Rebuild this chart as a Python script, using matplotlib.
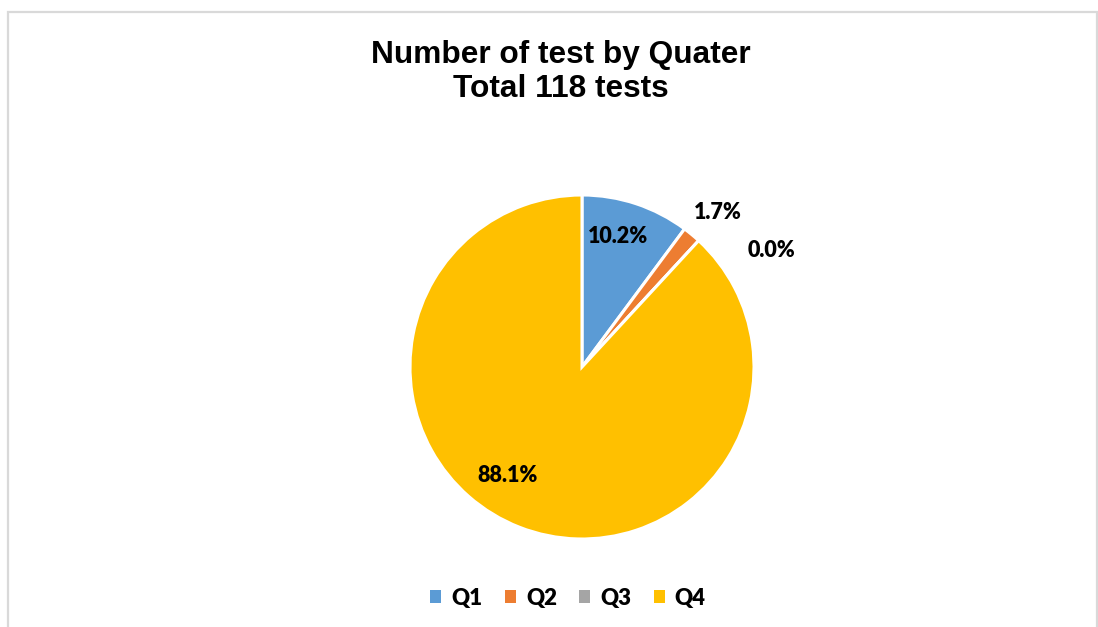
import numpy as np
import matplotlib.pyplot as plt
from matplotlib.patches import Rectangle

# data
quarters = ['Q1', 'Q2', 'Q3', 'Q4']
tests = [12, 2, 0, 104]
colors = ['#5B9BD5', '#ED7D31', '#A5A5A5', '#FFC000']
title = 'Number of test by Quater\nTotal 118 tests'

# label offsets (x, y in pie radius units), moved by hand like in the original
label_pos = [(0.21, 0.76), (0.79, 0.90), (1.10, 0.68), (-0.43, -0.63)]

W, H = 1098, 627
fig = plt.figure(figsize=(W / 100, H / 100), dpi=100)

# light frame round the chart
fig.patches.append(Rectangle((8 / W, -0.1), (1096.5 - 8) / W, 1.1 - 11.5 / H,
                             transform=fig.transFigure, fill=False,
                             edgecolor='#D9D9D9', lw=1.6))

fig.text(561 / W, 1 - 72 / H, title, ha='center', va='center',
         fontsize=22.8, fontweight='bold', family='Liberation Sans',
         linespacing=1.2)

cx, cy, r = 582, 367, 172
ax = fig.add_axes([(cx - r) / W, (H - cy - r) / H, 2 * r / W, 2 * r / H])
wedges, _ = ax.pie(tests, colors=colors, startangle=90, counterclock=False,
                   radius=1, wedgeprops=dict(edgecolor='white', linewidth=2.2))
ax.set_xlim(-1, 1)
ax.set_ylim(-1, 1)
ax.set_aspect('equal')
ax.axis('off')

total = sum(tests)
for v, (x, y) in zip(tests, label_pos):
    ax.text(x, y, f'{100 * v / total:.1f}%', ha='center', va='center',
            fontsize=15.5, fontweight='heavy', family='Lato', color='black')

fig.legend(wedges, quarters, loc='center', bbox_to_anchor=(568 / W, 1 - 598 / H),
           ncol=4, frameon=False, handlelength=0.5, handleheight=0.5,
           handletextpad=0.45, columnspacing=1.0,
           prop=dict(family='Lato', weight='heavy', size=16))
for h in fig.legends[0].legend_handles:
    h.set_edgecolor('none')

fig.savefig('out.png', dpi=100)
